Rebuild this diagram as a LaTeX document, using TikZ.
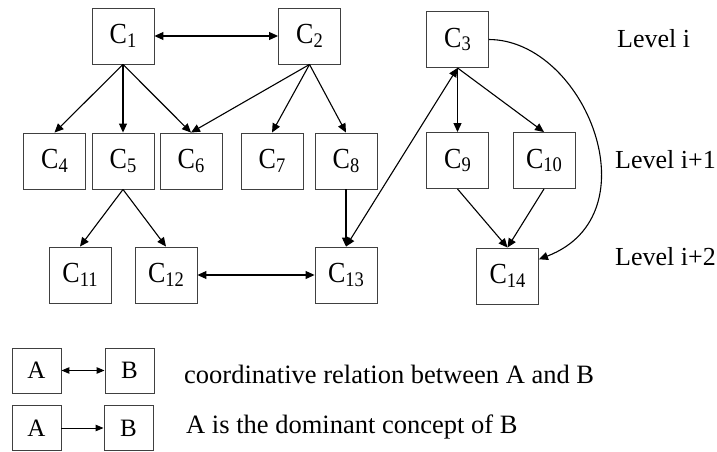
\documentclass[tikz,border=0pt]{standalone}
\usepackage{fontspec}
\setmainfont{Liberation Serif}
\usetikzlibrary{arrows.meta}

% concept label: letter with a lowered, smaller index, set slightly tall
\newcommand\clabel[1]{\scalebox{1}[1.12]{C\raisebox{-3pt}{\fontsize{18.5}{18.5}\selectfont #1}}}

\begin{document}
\begin{tikzpicture}[x=1pt,y=-1pt,
  cbox/.style={draw=black!75, line width=0.9pt, minimum width=62pt, minimum height=56pt,
               inner sep=0pt, font=\fontsize{26}{26}\selectfont},
  lbox/.style={draw=black!75, line width=0.9pt, minimum width=49pt, minimum height=45pt,
               inner sep=0pt, font=\fontsize{25}{25}\selectfont},
  rel/.style={line width=1.1pt, -{Triangle[length=9pt,width=8pt]}},
  coord/.style={line width=1.1pt, {Triangle[length=9pt,width=8pt]}-{Triangle[length=9pt,width=8pt]}},
  lrel/.style={line width=1pt, -{Triangle[length=8pt,width=6.5pt]}},
  lcoord/.style={line width=1pt, {Triangle[length=8pt,width=6.5pt]}-{Triangle[length=8pt,width=6.5pt]}},
  level/.style={anchor=base west, inner sep=0pt, font=\fontsize{26}{26}\selectfont},
  legtext/.style={anchor=base west, inner sep=0pt, font=\fontsize{26.5}{26.5}\selectfont}
]
\useasboundingbox (0,0) rectangle (717,452);

% level i
\node[cbox] (c1) at (123,36) {\clabel{1}};
\node[cbox] (c2) at (309.5,36) {\clabel{2}};
\node[cbox] (c3) at (457.5,39.5) {\clabel{3}};
% level i+1
\node[cbox] (c4) at (54.5,161) {\clabel{4}};
\node[cbox] (c5) at (123,161) {\clabel{5}};
\node[cbox] (c6) at (191,161) {\clabel{6}};
\node[cbox] (c7) at (272,161) {\clabel{7}};
\node[cbox] (c8) at (346,161) {\clabel{8}};
\node[cbox] (c9) at (457.5,160.5) {\clabel{9}};
\node[cbox] (c10) at (544,160.5) {\clabel{10}};
% level i+2
\node[cbox] (c11) at (80,275) {\clabel{11}};
\node[cbox] (c12) at (166,275) {\clabel{12}};
\node[cbox] (c13) at (346,275) {\clabel{13}};
\node[cbox] (c14) at (507.5,276) {\clabel{14}};

% level labels
\node[level] (l0) at (617,48) {Level i};
\node[level] (l1) at (615,168) {Level i+1};
\node[level] (l2) at (615,265) {Level i+2};

% coordinative relations
\draw[coord] (c1.east) -- (c2.west);
\draw[coord] (c12.east) -- (c13.west);
\draw[coord] (c13.north) -- (c3.south);

% dominance relations
\draw[rel] (c1.south) -- (c4.north);
\draw[rel] (c1.south) -- (c5.north);
\draw[rel] (c1.south) -- (c6.north);
\draw[rel] (c2.south) -- (c6.north);
\draw[rel] (c2.south) -- (c7.north);
\draw[rel] (c2.south) -- (c8.north);
\draw[rel] (c5.south) -- (c11.north);
\draw[rel] (c5.south) -- (c12.north);
\draw[rel] (c8.south) -- (c13.north);
\draw[rel] (c3.south) -- (c9.north);
\draw[rel] (c3.south) -- (c10.north);
\draw[rel] (c9.south) -- (c14.north);
\draw[rel] (c10.south) -- (c14.north);
\draw[rel] (c3.east) .. controls (585,40) and (655,215) .. (c14.28);

% legend
\node[lbox] (a1) at (36.5,370.5) {A};
\node[lbox] (b1) at (129.5,370.5) {B};
\node[lbox] (a2) at (36.5,428) {A};
\node[lbox] (b2) at (128.5,428) {B};
\draw[lcoord] (a1.east) -- (b1.west);
\draw[lrel] (a2.east) -- (b2.west);
\node[legtext] (t1) at (184,383) {coordinative relation between A and B};
\node[legtext] (t2) at (186,433) {A is the dominant concept of B};
\end{tikzpicture}
\end{document}
